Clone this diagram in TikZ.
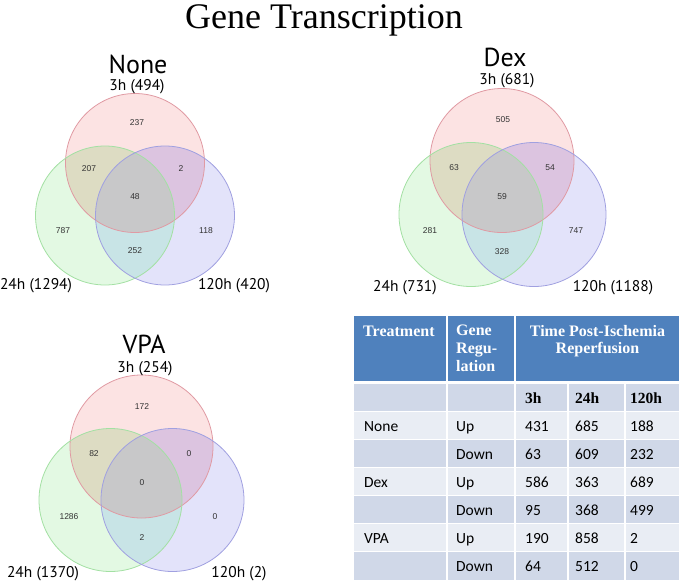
\documentclass[tikz,border=0pt]{standalone}
\usepackage{fontspec}
\setmainfont{Liberation Serif}
\newfontfamily\vsans{PT Sans}
\newfontfamily\nsans{Liberation Sans}
\newfontfamily\calib{Carlito}
\definecolor{vred}{HTML}{FCE3E3}
\definecolor{vgreen}{HTML}{E3F9E3}
\definecolor{vblue}{HTML}{E3E3FA}
\definecolor{vrg}{HTML}{DDDCC3}
\definecolor{vrb}{HTML}{DCC4E0}
\definecolor{vgb}{HTML}{C8E4E6}
\definecolor{vrgb}{HTML}{C8C8C9}
\definecolor{sred}{HTML}{E09AA3}
\definecolor{sgreen}{HTML}{A3E0A3}
\definecolor{sblue}{HTML}{A0A0E0}
\definecolor{thead}{HTML}{4F81BD}
\definecolor{tdark}{HTML}{D0D8E8}
\definecolor{tlight}{HTML}{E9EDF4}
\newcommand\myvenn[7]{%
  \fill[vred] (#1,#2) circle[radius=#7];
  \fill[vgreen] (#3,#4) circle[radius=#7];
  \fill[vblue] (#5,#6) circle[radius=#7];
  \begin{scope}\clip (#1,#2) circle[radius=#7]; \fill[vrg] (#3,#4) circle[radius=#7];\end{scope}
  \begin{scope}\clip (#1,#2) circle[radius=#7]; \fill[vrb] (#5,#6) circle[radius=#7];\end{scope}
  \begin{scope}\clip (#3,#4) circle[radius=#7]; \fill[vgb] (#5,#6) circle[radius=#7];\end{scope}
  \begin{scope}\clip (#1,#2) circle[radius=#7]; \clip (#3,#4) circle[radius=#7]; \fill[vrgb] (#5,#6) circle[radius=#7];\end{scope}
  \draw[sred, line width=0.8pt] (#1,#2) circle[radius=#7];
  \draw[sgreen, line width=0.8pt] (#3,#4) circle[radius=#7];
  \draw[sblue, line width=0.8pt] (#5,#6) circle[radius=#7];
}
\begin{document}
\begin{tikzpicture}[x=1pt,y=-1pt,
  vtitle/.style={font=\vsans\fontsize{26}{28}\selectfont, inner sep=0pt, anchor=base},
  vset/.style={font=\vsans\fontsize{15.5}{17}\selectfont, inner sep=0pt, anchor=base},
  vnum/.style={font=\nsans\fontsize{8.5}{10}\selectfont, text=black!80, inner sep=0pt},
  thd/.style={font=\bfseries\fontsize{16}{18}\selectfont, text=white, inner sep=0pt},
  tbold/.style={font=\bfseries\fontsize{15.5}{18}\selectfont, inner sep=0pt, anchor=base west},
  tcell/.style={font=\calib\fontsize{15.5}{18}\selectfont, inner sep=0pt, anchor=base west},
  grid/.style={white, line width=1.6pt}]
\useasboundingbox (0,0) rectangle (681,587);

\node[font=\fontsize{36}{40}\selectfont, inner sep=0pt, anchor=base] (title) at (324,28) {Gene Transcription};

% ---------- None ----------
\myvenn{135}{163}{105}{215.5}{165}{215.5}{69.5}
\node[vtitle] (n-t) at (138,73) {None};
\node[vset] (n-3) at (137,90) {3h (494)};
\node[vset] (n-24) at (36,289) {24h (1294)};
\node[vset] (n-120) at (234,289) {120h (420)};
\node[vnum] (n-a) at (137,123) {237};
\node[vnum] (n-b) at (89,169) {207};
\node[vnum] (n-c) at (181,169) {2};
\node[vnum] (n-d) at (135,197) {48};
\node[vnum] (n-e) at (63,231) {787};
\node[vnum] (n-f) at (206,231) {118};
\node[vnum] (n-g) at (135,251) {252};

% ---------- Dex ----------
\myvenn{502}{160.5}{471}{214.5}{534}{214.5}{72}
\node[vtitle] (d-t) at (505,66) {Dex};
\node[vset] (d-3) at (507,84) {3h (681)};
\node[vset] (d-24) at (405,291) {24h (731)};
\node[vset] (d-120) at (613,291) {120h (1188)};
\node[vnum] (d-a) at (503,120) {505};
\node[vnum] (d-b) at (454,168) {63};
\node[vnum] (d-c) at (550,168) {54};
\node[vnum] (d-d) at (502,197) {59};
\node[vnum] (d-e) at (430,231) {281};
\node[vnum] (d-f) at (576,231) {747};
\node[vnum] (d-g) at (502,252) {328};

% ---------- VPA ----------
\myvenn{141.5}{446.5}{110.5}{500}{172.5}{500}{71.5}
\node[vtitle] (v-t) at (144,353) {VPA};
\node[vset] (v-3) at (145,372) {3h (254)};
\node[vset] (v-24) at (43,577) {24h (1370)};
\node[vset] (v-120) at (239,577) {120h (2)};
\node[vnum] (v-a) at (142,407) {172};
\node[vnum] (v-b) at (94,454) {82};
\node[vnum] (v-c) at (189,454) {0};
\node[vnum] (v-d) at (142,483) {0};
\node[vnum] (v-e) at (69,517) {1286};
\node[vnum] (v-f) at (215,517) {0};
\node[vnum] (v-g) at (142,538) {2};

% ---------- Table ----------
\fill[thead] (354,316) rectangle (679,382);
\foreach \r/\c in {0/tdark,1/tlight,2/tdark,3/tlight,4/tdark,5/tlight,6/tdark}{
  \fill[\c] (354,{383.5+28*\r}) rectangle (679,{383.5+28*(\r+1)});
}
\draw[grid] (447,316) -- (447,580);
\draw[grid] (515,316) -- (515,580);
\draw[grid] (568,382) -- (568,580);
\draw[grid] (625,382) -- (625,580);
\draw[white, line width=2.5pt] (354,382.5) -- (679,382.5);
\foreach \r in {1,...,6}{
  \draw[grid] (354,{383.5+28*\r}) -- (679,{383.5+28*\r});
}

\node[thd, anchor=base west] (h-tr) at (363,336) {Treatment};
\node[thd, anchor=north west, align=left, font=\bfseries\fontsize{16}{18}\selectfont] (h-gr) at (456,325) {Gene\\Regu-\\lation};
\node[thd, anchor=north, align=center, font=\bfseries\fontsize{16}{17}\selectfont] (h-tm) at (597.5,325) {Time Post-Ischemia\\Reperfusion};

\node[tbold] (c-3h) at (525,403) {3h};
\node[tbold] (c-24h) at (575,403) {24h};
\node[tbold] (c-120h) at (630,403) {120h};

\node[tcell] (r1a) at (364,431) {None};
\node[tcell] (r1b) at (456,431) {Up};
\node[tcell] (r1c) at (525,431) {431};
\node[tcell] (r1d) at (575,431) {685};
\node[tcell] (r1e) at (630,431) {188};

\node[tcell] (r2b) at (456,459) {Down};
\node[tcell] (r2c) at (525,459) {63};
\node[tcell] (r2d) at (575,459) {609};
\node[tcell] (r2e) at (630,459) {232};

\node[tcell] (r3a) at (364,487) {Dex};
\node[tcell] (r3b) at (456,487) {Up};
\node[tcell] (r3c) at (525,487) {586};
\node[tcell] (r3d) at (575,487) {363};
\node[tcell] (r3e) at (630,487) {689};

\node[tcell] (r4b) at (456,515) {Down};
\node[tcell] (r4c) at (525,515) {95};
\node[tcell] (r4d) at (575,515) {368};
\node[tcell] (r4e) at (630,515) {499};

\node[tcell] (r5a) at (364,543) {VPA};
\node[tcell] (r5b) at (456,543) {Up};
\node[tcell] (r5c) at (525,543) {190};
\node[tcell] (r5d) at (575,543) {858};
\node[tcell] (r5e) at (630,543) {2};

\node[tcell] (r6b) at (456,571) {Down};
\node[tcell] (r6c) at (525,571) {64};
\node[tcell] (r6d) at (575,571) {512};
\node[tcell] (r6e) at (630,571) {0};
\end{tikzpicture}
\end{document}
